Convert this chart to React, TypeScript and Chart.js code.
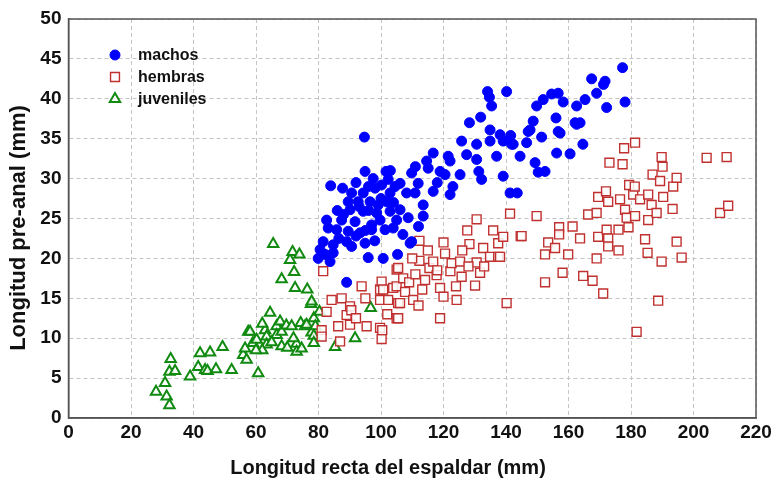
import React, { useEffect, useRef } from "react";
import { Chart, registerables } from "chart.js";

Chart.register(...registerables);

const xTicks = [0, 20, 40, 60, 80, 100, 120, 140, 160, 180, 200, 220];
const yTicks = [0, 5, 10, 15, 20, 25, 30, 35, 40, 45, 50];
const seriesNames = ["machos", "hembras", "juveniles"];
const xTitle = "Longitud recta del espaldar (mm)";
const yTitle = "Longitud pre-anal (mm)";

const machos: [number, number][] = [
  [79.9, 20.0], [80.5, 21.1], [81.5, 22.1], [82.1, 20.5], [82.6, 24.8], [83.1, 23.8], [83.7, 19.6], [83.9, 29.1],
  [84.7, 21.7], [84.7, 20.7], [85.8, 23.6], [87.4, 24.8], [87.7, 28.8], [89, 22.1], [89, 17.0], [89.5, 27.1],
  [89.5, 23.4], [90.1, 26.1], [90.6, 28.2], [90.6, 21.5], [91.7, 24.6], [92.7, 27.1], [93.3, 23.2], [94.3, 28.2],
  [94.3, 25.9], [94.7, 35.2], [94.9, 30.9], [94.9, 21.9], [95.9, 20.1], [96.5, 27.1], [97, 24.2], [97, 23.6],
  [98.1, 28.8], [98.6, 25.7], [99.1, 26.7], [99.7, 24.8], [100.2, 29.2], [100.7, 20.0], [101.3, 23.6], [101.6, 30.9],
  [101.8, 27.1], [102.3, 29.9], [102.9, 28.2], [102.9, 25.9], [103.9, 23.8], [105, 24.8], [105.3, 20.5], [106.1, 29.4],
  [106.1, 26.1], [108.2, 28.2], [108.7, 25.1], [109.3, 21.9], [109.8, 30.7], [109.8, 22.1], [110.9, 28.2], [111.9, 29.4],
  [113.5, 26.7], [113.5, 25.3], [114.6, 32.2], [115.1, 31.3], [116.7, 33.2], [116.7, 28.4], [118.9, 30.9], [120.5, 30.5],
  [121.5, 32.8], [122.1, 32.2], [122.1, 28.0], [125.3, 30.5], [125.8, 34.7], [127.4, 33.0], [128.3, 37.0], [130.6, 34.3],
  [130.6, 32.4], [131.3, 30.9], [131.9, 37.7], [132.2, 29.9], [134.1, 40.9], [134.7, 40.2], [135.4, 39.1], [134.9, 36.1],
  [134.9, 34.7], [137, 32.8], [138.1, 35.5], [139.1, 34.7], [139.1, 30.3], [140.2, 40.9], [141.3, 28.2], [141.5, 35.4],
  [141.8, 34.3], [142.3, 34.3], [143.6, 28.2], [144.5, 32.8], [146.6, 34.5], [147.1, 35.9], [147.7, 36.1], [148.7, 37.2],
  [149.3, 32.0], [149.8, 39.1], [150.3, 30.8], [151.4, 35.2], [151.9, 39.9], [152.5, 30.9], [154.6, 40.6], [156, 37.6],
  [156.7, 40.7], [156.2, 33.2], [156.7, 35.9], [157.3, 35.7], [158.3, 39.6], [160.5, 33.1], [162.1, 37.0], [162.6, 39.1],
  [162.6, 36.8], [163.7, 37.0], [164.6, 34.3], [165.3, 39.9], [167.4, 42.5], [169, 40.7], [171.7, 42.2], [171.2, 41.8],
  [172.2, 38.9], [177.3, 43.9], [178.1, 39.6],
  [86, 26], [88, 25.5], [92, 29.5], [96, 29], [97.5, 30], [104, 27], [107, 23], [92, 22.8], [86.5, 22.5], [98, 22.2],
  [103, 31], [112, 24], [96, 26], [100, 27.5], [93, 26.5], [95, 23.5], [104.5, 29], [111, 31.5], [118, 29.5], [123, 29],
];

const hembras: [number, number][] = [
  [81.5, 18.4], [81, 11], [81, 10.2], [82.6, 13.3], [84.2, 14.8], [86.3, 11.5], [86.9, 9.6], [87.4, 15.0],
  [89, 12.9], [90.1, 14.0], [90.1, 11.7], [90.5, 13.5], [93.8, 16.5], [95.4, 11.5], [99.7, 11.3], [99.7, 14.8],
  [99.7, 16.1], [100.2, 17.1], [100.2, 9.9], [100.4, 11.0], [100.7, 16.1], [102.3, 14.8], [103.9, 16.3], [105, 18.6],
  [105, 16.5], [105, 12.5], [105.5, 18.8], [105.5, 14.4], [105.5, 12.5], [106.1, 14.4], [107.1, 17.5], [107.7, 15.8],
  [110.3, 14.8], [112, 14.1], [112.3, 22.2], [112.3, 19.7], [113.2, 16.1], [114.1, 17.3], [115.5, 18.8], [116.7, 19.6],
  [117.8, 17.9], [118.9, 16.3], [118.9, 12.5], [120, 15.2], [120.5, 20.6], [122.2, 18.4], [122.6, 19.4], [124.2, 14.8],
  [125.3, 19.6], [125.8, 17.7], [127.6, 23.5], [128.3, 21.8], [130.1, 16.6], [130.6, 24.9], [130.6, 19.5], [131.7, 18.2],
  [132.7, 21.3], [134.9, 20.2], [135.9, 23.5], [137.5, 21.9], [137.5, 20.2], [138.1, 20.2], [139.1, 22.7], [140.2, 14.4],
  [141.3, 25.6], [144.7, 22.8], [145, 22.8], [149.8, 25.3], [152.5, 17.0], [152.5, 20.5], [153.5, 22.0], [155.7, 21.3],
  [157, 23.9], [157, 23.0], [158.1, 18.2], [159.9, 20.5], [161.3, 24.0], [163.7, 22.5], [164.7, 17.8], [166.3, 25.5],
  [167.7, 17.2], [169, 25.7], [169, 20.0], [169.5, 27.7], [169.5, 22.7], [171.1, 15.6], [172, 28.4], [172.2, 23.6],
  [172.7, 27.1], [172.7, 22.5], [172.7, 21.5], [173.1, 32.0], [176, 23.6], [176, 21.0], [176.5, 27.4], [177.3, 31.8],
  [177.8, 33.8], [178.1, 26.1], [178.6, 25.1], [179.2, 23.9], [179.4, 29.2], [180.7, 28.0], [181.2, 29.0], [181.3, 34.5],
  [181.3, 25.3], [181.8, 10.8], [182.9, 27.4], [184.5, 22.4], [185.3, 20.7], [185.5, 28.0], [185.5, 24.8], [186.6, 26.7],
  [186.9, 30.5], [188.2, 25.7], [188.7, 14.7], [189.3, 29.7], [189.8, 32.7], [189.8, 19.6], [190.1, 31.5], [190.3, 27.7],
  [193.3, 26.2], [193.5, 29.0], [194.6, 30.1], [194.6, 22.1], [196.2, 20.1], [204.2, 32.6], [208.5, 25.7], [210.6, 32.7],
  [211.1, 26.6],
  [110, 20], [115, 21], [120, 22], [126, 21], [128, 19], [118, 18.5], [109, 17], [111, 18], [124, 16.5], [133, 19],
  [102, 13], [95, 15], [92, 12.5],
];

const juveniles: [number, number][] = [
  [28, 3.3], [30.9, 4.4], [31.4, 2.7], [32.3, 1.6], [32.7, 7.4], [32.3, 5.8], [34.1, 5.9], [38.9, 5.2],
  [42.1, 8.1], [41.5, 6.4], [43.7, 6.0], [44.5, 5.9], [45.3, 8.2], [47.2, 6.1], [49.3, 8.9], [52.2, 6.0],
  [55.9, 7.9], [56.5, 8.7], [57, 7.3], [57.5, 10.8], [58.1, 10.8], [59, 9.4], [60.2, 9.8], [60.7, 5.6],
  [62.9, 11.0], [63.4, 10.2], [63.4, 9.2], [64.5, 13.2], [65.5, 21.8], [66.6, 11.5], [66.6, 10.4], [67.7, 12.1],
  [68.2, 17.4], [68.2, 10.8], [68.2, 9.0], [69.7, 11.6], [70.9, 19.8], [71.4, 11.5], [71.7, 20.8], [72.2, 18.3],
  [72.5, 16.3], [73, 9.3], [73, 8.3], [73.9, 20.5], [74.3, 11.9], [74.6, 8.7], [75.7, 11.5], [76.2, 11.7],
  [76.4, 16.1], [77.6, 14.3], [77.8, 10.7], [77.8, 14.6], [78.5, 12.5], [79, 11.5], [78.5, 10.3], [78.5, 9.4],
  [80.3, 13.3], [85.3, 8.9], [91.7, 10.0], [96.7, 13.8], [62, 8.5], [65, 9.5], [70, 8.8], [72, 10], [62, 11.8], [60, 8.5],
];

const FONT = "'Liberation Sans', Arial, sans-serif";

function drawMarker(ctx: CanvasRenderingContext2D, style: string, r: number, x: number, y: number) {
  ctx.beginPath();
  if (style === "circle") {
    ctx.arc(x, y, r, 0, Math.PI * 2);
  } else if (style === "rect") {
    const s = Math.SQRT1_2 * r;
    ctx.rect(x - s, y - s, 2 * s, 2 * s);
  } else {
    ctx.moveTo(x, y - r);
    ctx.lineTo(x + Math.sin((2 * Math.PI) / 3) * r, y - Math.cos((2 * Math.PI) / 3) * r);
    ctx.lineTo(x + Math.sin((4 * Math.PI) / 3) * r, y - Math.cos((4 * Math.PI) / 3) * r);
    ctx.closePath();
  }
  ctx.fill();
  ctx.stroke();
}

const frameAndText = {
  id: "frameAndText",
  afterDraw(chart: any) {
    const { ctx, chartArea } = chart;
    ctx.save();
    ctx.strokeStyle = "#555";
    ctx.lineWidth = 1.5;
    ctx.strokeRect(chartArea.left, chartArea.top, chartArea.right - chartArea.left, chartArea.bottom - chartArea.top);
    ctx.fillStyle = "#111";
    ctx.textAlign = "center";
    ctx.textBaseline = "middle";
    ctx.font = `bold 20px ${FONT}`;
    ctx.fillText(xTitle, 388, 468);
    ctx.save();
    ctx.translate(19, 228);
    ctx.rotate(-Math.PI / 2);
    ctx.font = `bold 22px ${FONT}`;
    ctx.fillText(yTitle, 0, 0);
    ctx.restore();
    const rows = [55, 77, 99];
    ctx.font = `bold 16px ${FONT}`;
    ctx.textAlign = "left";
    chart.data.datasets.forEach((ds: any, i: number) => {
      const y = rows[i];
      ctx.save();
      ctx.fillStyle = ds.backgroundColor;
      ctx.strokeStyle = ds.borderColor;
      ctx.lineWidth = ds.borderWidth;
      drawMarker(ctx, ds.pointStyle, ds.pointRadius, 115, y);
      ctx.restore();
      ctx.fillStyle = "#111";
      ctx.fillText(ds.label, 138, y + 1);
    });
    ctx.restore();
  },
};

export default function App() {
  const ref = useRef<HTMLCanvasElement>(null);
  useEffect(() => {
    if (!ref.current) return;
    const toPts = (arr: [number, number][]) => arr.map(([x, y]) => ({ x, y }));
    const chart = new Chart(ref.current, {
      type: "scatter",
      data: {
        datasets: [
          {
            label: seriesNames[0],
            data: toPts(machos),
            pointStyle: "circle",
            pointRadius: 5,
            backgroundColor: "#0000ff",
            borderColor: "#0000ff",
            borderWidth: 1,
          },
          {
            label: seriesNames[1],
            data: toPts(hembras),
            pointStyle: "rect",
            pointRadius: 6.3,
            backgroundColor: "rgba(255,255,255,0.85)",
            borderColor: "#c0302f",
            borderWidth: 1.4,
          },
          {
            label: seriesNames[2],
            data: toPts(juveniles),
            pointStyle: "triangle",
            pointRadius: 6,
            backgroundColor: "rgba(255,255,255,0.85)",
            borderColor: "#108a10",
            borderWidth: 2,
          },
        ] as any,
      },
      options: {
        responsive: false,
        animation: false,
        devicePixelRatio: 1,
        layout: { padding: { top: 19, right: 21, left: 0, bottom: 0 } },
        plugins: { legend: { display: false }, tooltip: { enabled: false } },
        scales: {
          x: {
            type: "linear",
            min: 0,
            max: 220,
            afterBuildTicks: (s: any) => {
              s.ticks = xTicks.map((v) => ({ value: v }));
            },
            afterFit: (s: any) => {
              s.height = 63;
            },
            ticks: { color: "#111", font: { family: FONT, size: 19, weight: "bold" }, padding: 3 },
            grid: { color: "#c4c4c4", drawTicks: false, lineWidth: 1 },
            border: { display: true, color: "#555", width: 1.5, dash: [4, 3] },
          },
          y: {
            type: "linear",
            min: 0,
            max: 50,
            afterBuildTicks: (s: any) => {
              s.ticks = yTicks.map((v) => ({ value: v }));
            },
            afterFit: (s: any) => {
              s.width = 68.5;
            },
            ticks: { color: "#111", font: { family: FONT, size: 19, weight: "bold" }, padding: 7 },
            grid: { color: "#c4c4c4", drawTicks: false, lineWidth: 1 },
            border: { display: true, color: "#555", width: 1.5, dash: [4, 3] },
          },
        },
      },
      plugins: [frameAndText],
    } as any);
    return () => chart.destroy();
  }, []);
  return (
    <div style={{ position: "absolute", left: 0, top: 0, width: 777, height: 481, background: "#fff" }}>
      <canvas ref={ref} width={777} height={481} style={{ width: 777, height: 481 }} />
    </div>
  );
}
